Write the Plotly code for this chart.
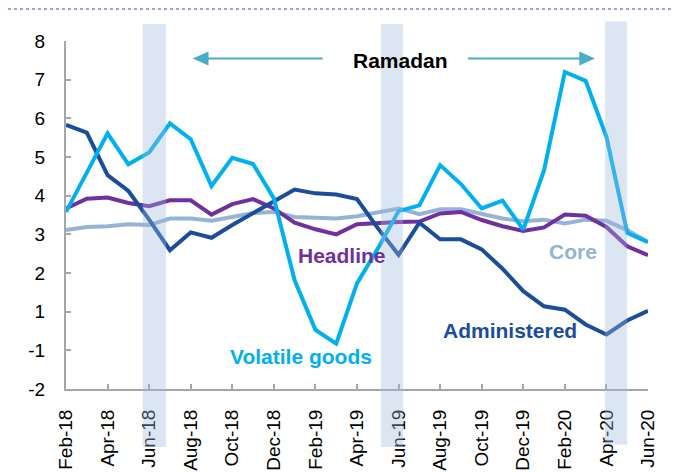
import plotly.graph_objects as go

months = ["Feb-18", "Mar-18", "Apr-18", "May-18", "Jun-18", "Jul-18", "Aug-18", "Sep-18",
          "Oct-18", "Nov-18", "Dec-18", "Jan-19", "Feb-19", "Mar-19", "Apr-19", "May-19",
          "Jun-19", "Jul-19", "Aug-19", "Sep-19", "Oct-19", "Nov-19", "Dec-19", "Jan-20",
          "Feb-20", "Mar-20", "Apr-20", "May-20", "Jun-20"]

# values on the chart's evenly spaced vertical scale (position 0 is labelled "-1", -1 is "-2")
core = [3.11, 3.19, 3.21, 3.26, 3.24, 3.41, 3.41, 3.35, 3.45, 3.55, 3.58, 3.45, 3.43, 3.41,
        3.47, 3.58, 3.67, 3.52, 3.65, 3.65, 3.54, 3.41, 3.34, 3.38, 3.28, 3.38, 3.35, 3.11, 2.80]
headline = [3.67, 3.92, 3.95, 3.81, 3.73, 3.88, 3.88, 3.51, 3.78, 3.91, 3.67, 3.30, 3.13, 3.00,
            3.26, 3.30, 3.32, 3.33, 3.54, 3.58, 3.37, 3.21, 3.09, 3.18, 3.51, 3.48, 3.19, 2.69, 2.46]
administered = [5.83, 5.63, 4.53, 4.12, 3.38, 2.59, 3.05, 2.91, 3.24, 3.55, 3.88, 4.16, 4.06, 4.03,
                3.91, 3.16, 2.47, 3.30, 2.87, 2.87, 2.61, 2.11, 1.53, 1.14, 1.05, 0.67, 0.41, 0.77, 1.02]
volatile = [3.58, 4.60, 5.61, 4.81, 5.12, 5.87, 5.46, 4.25, 4.98, 4.82, 3.93, 1.81, 0.53, 0.17,
            1.73, 2.63, 3.60, 3.75, 4.79, 4.30, 3.67, 3.87, 3.12, 4.66, 7.20, 6.97, 5.52, 3.04, 2.80]

tick_months = months[::2]
y_tickvals = [8, 7, 6, 5, 4, 3, 2, 1, 0, -1]
y_ticktext = ["8", "7", "6", "5", "4", "3", "2", "1", "-1", "-2"]

# Ramadan bands (category index positions)
ramadan_bands = [(3.69, 4.81), (15.15, 16.22), (25.93, 27.0)]

OFF = 8  # page body margin
W, H = 681 - OFF, 473 - OFF
ML, MT = 66 - OFF, 41 - OFF
MR = W - (648 - OFF)
MB = H - (389 - OFF)
PW, PH = W - ML - MR, H - MT - MB


def px(x):
    return (x - OFF - ML) / PW


def py(y):
    return (MT + PH - (y - OFF)) / PH


C_CORE = "#95B3D7"
C_HEAD = "#7030A0"
C_ADM = "#1A4D9C"
C_VOL = "#00B0F0"
C_ARROW = "#4BACC6"
FONT = "Arial, Liberation Sans, sans-serif"

fig = go.Figure()
for name, vals, col in [("Core", core, C_CORE), ("Headline", headline, C_HEAD),
                        ("Administered", administered, C_ADM), ("Volatile goods", volatile, C_VOL)]:
    fig.add_trace(go.Scatter(x=months, y=vals, mode="lines", name=name,
                             line=dict(color=col, width=4), showlegend=False))

shapes = []
band_y = [(24, 447), (24, 447), (21.5, 444.5)]
for (x0, x1), (yt, yb) in zip(ramadan_bands, band_y):
    shapes.append(dict(type="rect", xref="x", yref="paper", x0=x0, x1=x1, y0=py(yb), y1=py(yt),
                       fillcolor="#9DB9DF", opacity=0.36, line=dict(width=0), layer="above"))

# arrows
ay = 58.5
shapes.append(dict(type="line", xref="paper", yref="paper", x0=px(322.7), x1=px(207), y0=py(ay), y1=py(ay),
                   line=dict(color=C_ARROW, width=2)))
shapes.append(dict(type="path", xref="paper", yref="paper",
                   path=f"M {px(192.7)} {py(ay)} L {px(208.5)} {py(ay-7)} L {px(208.5)} {py(ay+7)} Z",
                   fillcolor=C_ARROW, line=dict(width=0)))
shapes.append(dict(type="line", xref="paper", yref="paper", x0=px(468), x1=px(580), y0=py(ay), y1=py(ay),
                   line=dict(color=C_ARROW, width=2)))
shapes.append(dict(type="path", xref="paper", yref="paper",
                   path=f"M {px(595)} {py(ay)} L {px(579.3)} {py(ay-7)} L {px(579.3)} {py(ay+7)} Z",
                   fillcolor=C_ARROW, line=dict(width=0)))
# dotted rule at the very top
shapes.append(dict(type="line", xref="paper", yref="paper", x0=px(OFF), x1=px(681), y0=py(OFF + 1), y1=py(OFF + 1),
                   line=dict(color="#2F4F9F", width=1, dash="dot")))

annotations = []
for text, x, y, col in [("Ramadan", 400.8, 60, "#000000"), ("Headline", 341.5, 255, C_HEAD),
                        ("Core", 573, 251.5, C_CORE), ("Administered", 509.5, 330.5, C_ADM),
                        ("Volatile goods", 300.8, 356, C_VOL)]:
    annotations.append(dict(text=f"<b>{text}</b>", xref="paper", yref="paper", x=px(x), y=py(y),
                            xanchor="center", yanchor="middle", showarrow=False,
                            font=dict(family=FONT, size=21, color=col)))

fig.update_layout(
    template="none",
    width=W, height=H,
    margin=dict(l=ML, r=MR, t=MT, b=MB, pad=0),
    paper_bgcolor="white", plot_bgcolor="white",
    showlegend=False,
    shapes=shapes, annotations=annotations,
    font=dict(family=FONT, size=19, color="#000000"),
)
fig.update_xaxes(type="category", range=[0, len(months) - 1], tickmode="array",
                 tickvals=tick_months, ticktext=tick_months, tickangle=-90,
                 showline=True, linecolor="#A6A6A6", linewidth=2,
                 ticks="inside", ticklen=5, tickwidth=2, tickcolor="#A6A6A6",
                 showgrid=False, zeroline=False, automargin=False,
                 tickfont=dict(family=FONT, size=19, color="#000000"), ticklabelstandoff=11)
fig.update_yaxes(range=[-1, 8], tickmode="array", tickvals=y_tickvals, ticktext=y_ticktext,
                 showline=True, linecolor="#A6A6A6", linewidth=2,
                 ticks="inside", ticklen=5, tickwidth=2, tickcolor="#A6A6A6",
                 showgrid=False, zeroline=False, automargin=False,
                 tickfont=dict(family=FONT, size=19, color="#000000"), ticklabelstandoff=15)

fig.write_html("out.html")
